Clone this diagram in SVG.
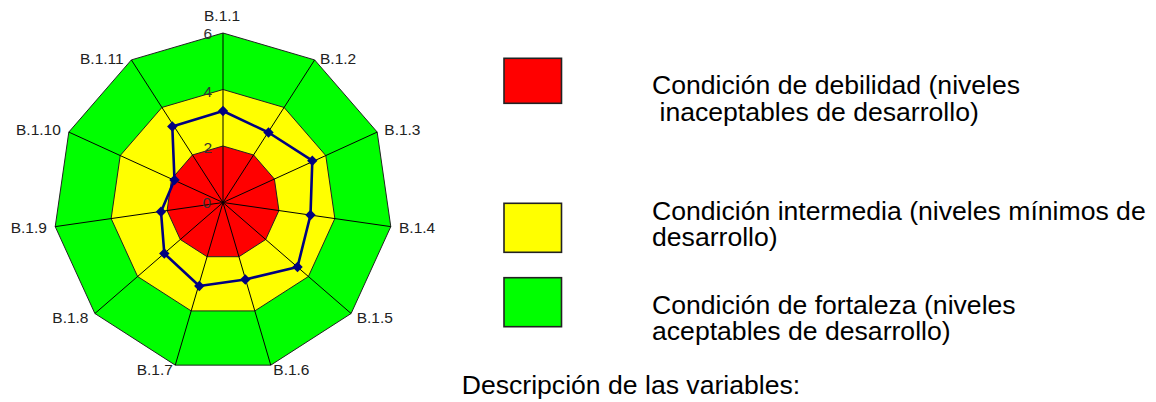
<svg xmlns="http://www.w3.org/2000/svg" width="1156" height="402" viewBox="0 0 1156 402">
<style>
.lbl{font-family:"Liberation Sans",Arial,sans-serif;font-size:15.5px;fill:#222}
.num{font-family:"Liberation Sans",Arial,sans-serif;font-size:15.5px;fill:#333;text-anchor:end}
.leg{font-family:"Liberation Sans",Arial,sans-serif;font-size:26.6px;fill:#000}
.ring{stroke:#222;stroke-width:1;stroke-linejoin:round}
.spoke{stroke:#000;stroke-width:1}
.box{stroke:#222;stroke-width:1.6}
</style>
<defs>
<marker id="dia" markerUnits="userSpaceOnUse" markerWidth="12" markerHeight="12" viewBox="-6 -6 12 12" refX="0" refY="0" overflow="visible">
<path d="M0,-5.2 L5.2,0 L0,5.2 L-5.2,0 Z" fill="#000080"/>
</marker>
</defs>
<rect width="1156" height="402" fill="#fff"/>
<g id="chart">
<polygon class="ring" fill="#00ff00" points="223,33 314.64,59.91 377.18,132.09 390.77,226.62 351.1,313.5 270.75,365.13 175.25,365.13 94.9,313.5 55.23,226.62 68.82,132.09 131.36,59.91"/>
<polygon class="ring" fill="#ffff00" points="223,89.5 284.09,107.44 325.79,155.56 334.85,218.58 308.4,276.5 254.84,310.92 191.16,310.92 137.6,276.5 111.15,218.58 120.21,155.56 161.91,107.44"/>
<polygon class="ring" fill="#ff0000" points="223,146 253.55,154.97 274.39,179.03 278.92,210.54 265.7,239.5 238.92,256.71 207.08,256.71 180.3,239.5 167.08,210.54 171.61,179.03 192.45,154.97"/>
<g id="spokes">
<line class="spoke" x1="223" y1="202.5" x2="223" y2="33"/>
<line class="spoke" x1="223" y1="202.5" x2="314.64" y2="59.91"/>
<line class="spoke" x1="223" y1="202.5" x2="377.18" y2="132.09"/>
<line class="spoke" x1="223" y1="202.5" x2="390.77" y2="226.62"/>
<line class="spoke" x1="223" y1="202.5" x2="351.1" y2="313.5"/>
<line class="spoke" x1="223" y1="202.5" x2="270.75" y2="365.13"/>
<line class="spoke" x1="223" y1="202.5" x2="175.25" y2="365.13"/>
<line class="spoke" x1="223" y1="202.5" x2="94.9" y2="313.5"/>
<line class="spoke" x1="223" y1="202.5" x2="55.23" y2="226.62"/>
<line class="spoke" x1="223" y1="202.5" x2="68.82" y2="132.09"/>
<line class="spoke" x1="223" y1="202.5" x2="131.36" y2="59.91"/>
</g>
<g id="scale">
<text class="num" x="212" y="39">6</text>
<text class="num" x="212" y="97">4</text>
<text class="num" x="212" y="152.5">2</text>
<text class="num" x="211" y="208">0</text>
</g>
<g id="series">
<polygon fill="none" stroke="#000080" stroke-width="2.6" stroke-linejoin="round" marker-start="url(#dia)" marker-mid="url(#dia)" points="223,111 268.5,132.5 312.3,160.7 310.5,215 297.5,267 245.3,279.5 199.3,286 164.3,253.5 161,211.7 174.5,180 172.3,126.5"/>
</g>
<g id="axis-labels">
<text class="lbl" x="204" y="21">B.1.1</text>
<text class="lbl" x="320" y="64">B.1.2</text>
<text class="lbl" x="384.3" y="135">B.1.3</text>
<text class="lbl" x="399" y="232.7">B.1.4</text>
<text class="lbl" x="356.7" y="322.7">B.1.5</text>
<text class="lbl" x="273.3" y="375">B.1.6</text>
<text class="lbl" x="136.7" y="375">B.1.7</text>
<text class="lbl" x="52.3" y="322.7">B.1.8</text>
<text class="lbl" x="10.7" y="232.7">B.1.9</text>
<text class="lbl" x="16" y="135">B.1.10</text>
<text class="lbl" x="80" y="64">B.1.11</text>
</g>
</g>
<g id="legend-debilidad">
<rect class="box" x="504" y="58.3" width="57.5" height="45" fill="#ff0000"/>
<text class="leg" x="652" y="94">Condición de debilidad (niveles</text>
<text class="leg" x="659.5" y="121">inaceptables de desarrollo)</text>
</g>
<g id="legend-intermedia">
<rect class="box" x="504" y="203.3" width="57.5" height="49" fill="#ffff00"/>
<text class="leg" x="652" y="219.5">Condición intermedia (niveles mínimos de</text>
<text class="leg" x="652" y="245.5">desarrollo)</text>
</g>
<g id="legend-fortaleza">
<rect class="box" x="504" y="277.7" width="57.5" height="49" fill="#00ff00"/>
<text class="leg" x="652" y="313.5">Condición de fortaleza (niveles</text>
<text class="leg" x="652" y="340">aceptables de desarrollo)</text>
</g>
<g id="description">
<text class="leg" x="461.7" y="393.5">Descripción de las variables:</text>
</g>
</svg>
